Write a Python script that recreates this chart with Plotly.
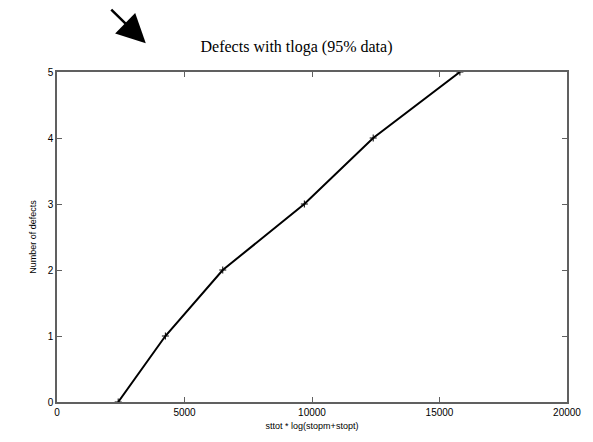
import plotly.graph_objects as go

x_vals = [2400, 4250, 6500, 9700, 12400, 15800]
defects = [0, 1, 2, 3, 4, 5]
x_ticks = [0, 5000, 10000, 15000, 20000]
y_ticks = [0, 1, 2, 3, 4, 5]

fig = go.Figure()
fig.add_trace(go.Scatter(
    x=x_vals, y=defects, mode="lines+markers",
    line=dict(color="black", width=2),
    marker=dict(symbol="cross-thin", size=5, line=dict(color="black", width=1)),
    showlegend=False,
))

axis_common = dict(
    showgrid=False, zeroline=False, showline=True, linecolor="#606060", linewidth=1.5,
    mirror="ticks", ticks="inside", ticklen=5, tickcolor="#606060",
    tickfont=dict(family="Liberation Sans, Arial", size=10, color="black"),
)
fig.update_layout(
    width=593, height=442,
    margin=dict(l=57, r=19, t=72, b=37),
    paper_bgcolor="white", plot_bgcolor="white",
    title=dict(text="Defects with tloga (95% data)", x=0.5, xanchor="center",
               y=1 - 46 / 442, yanchor="middle",
               font=dict(family="Liberation Serif, Times New Roman", size=16, color="black")),
    xaxis=dict(range=[0, 20000], tickvals=x_ticks, ticktext=[str(v) for v in x_ticks],
               title=dict(text="sttot * log(stopm+stopt)", standoff=6,
                          font=dict(family="Liberation Sans, Arial", size=9, color="black")),
               **axis_common),
    yaxis=dict(range=[0, 5], tickvals=y_ticks, ticktext=[str(v) for v in y_ticks],
               title=dict(text="Number of defects", standoff=10,
                          font=dict(family="Liberation Sans, Arial", size=9, color="black")),
               **axis_common),
)

# decorative arrow at top-left
fig.add_annotation(
    xref="paper", yref="paper",
    x=(147 - 57) / 517, y=1 + (72 - 43) / 333,
    ax=-36, ay=-35, axref="pixel", ayref="pixel",
    showarrow=True, arrowhead=2, arrowsize=2.3, arrowwidth=2.5, arrowcolor="black",
    text="",
)

fig.write_html("out.html")
